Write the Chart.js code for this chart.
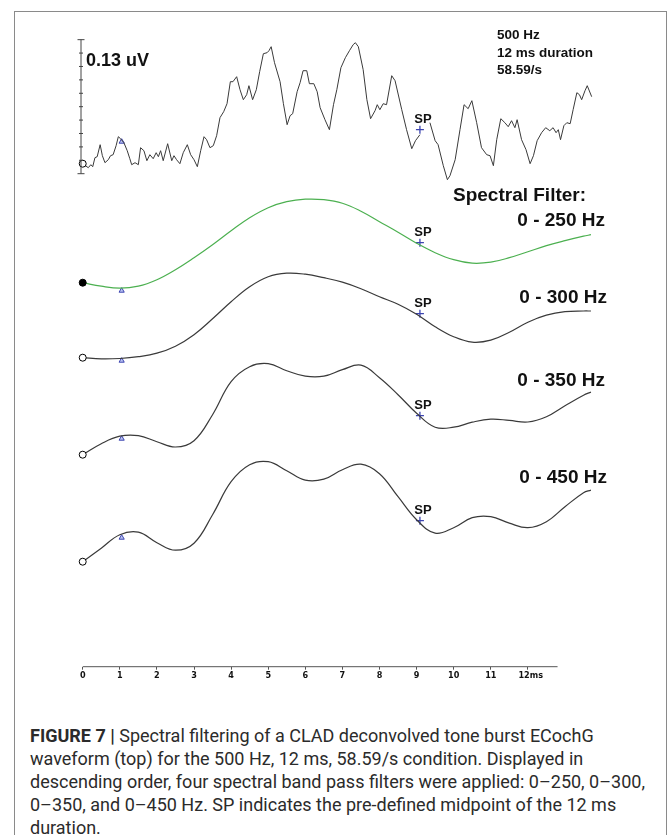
<!DOCTYPE html>
<html>
<head>
<meta charset="utf-8">
<script src="https://cdn.jsdelivr.net/npm/chart.js@4.4.0/dist/chart.umd.min.js"></script>
<style>
  body { margin: 0; background: #fff; width: 669px; height: 835px; overflow: hidden; position: relative; font-family: "Liberation Sans", Arial, sans-serif; }
  #frame { position: absolute; left: 14px; top: 11px; width: 653px; height: 900px; border: 1px solid #8a8a8a; box-sizing: border-box; }
  #wrap { position: absolute; left: 0; top: 0; width: 669px; height: 700px; }
  .lbl { position: absolute; font-weight: bold; color: #111; white-space: nowrap; line-height: 1; }
  .filt { font-size: 19px; }
  #caption { position: absolute; left: 30px; top: 724px; font-family: Roboto, "Open Sans", sans-serif; font-size: 18px; line-height: 23px; color: #2b2b2b; white-space: nowrap; }
</style>
</head>
<body>
<div id="frame"></div>
<div id="wrap"><canvas id="chart" width="669" height="700"></canvas></div>

<div class="lbl" style="left:86px; top:51px; font-size:18px;">0.13 uV</div>
<div class="lbl" style="left:497px; top:26px; font-size:13.5px; line-height:17.5px;">500 Hz<br>12 ms duration<br>58.59/s</div>
<div class="lbl filt" style="left:453px; top:185px;">Spectral Filter:</div>
<div class="lbl filt" style="right:64px; top:210px;">0 - 250 Hz</div>
<div class="lbl filt" style="right:62px; top:287px;">0 - 300 Hz</div>
<div class="lbl filt" style="right:64px; top:370px;">0 - 350 Hz</div>
<div class="lbl filt" style="right:62px; top:467px;">0 - 450 Hz</div>

<div id="caption"><b>FIGURE 7 |</b> Spectral filtering of a CLAD deconvolved tone burst ECochG<br>waveform (top) for the 500 Hz, 12 ms, 58.59/s condition. Displayed in<br>descending order, four spectral band pass filters were applied: 0–250, 0–300,<br>0–350, and 0–450 Hz. SP indicates the pre-defined midpoint of the 12 ms<br>duration.</div>

<script>
// x axis (ms)
const xTickValues = [0, 1, 2, 3, 4, 5, 6, 7, 8, 9, 10, 11, 12];
const xTickLabels = ["0", "1", "2", "3", "4", "5", "6", "7", "8", "9", "10", "11", "12ms"];
const axisEnd = 12.8;

// vertical placement of each trace (display units above the time axis)
const traceNames = ["CLAD", "0 - 250 Hz", "0 - 300 Hz", "0 - 350 Hz", "0 - 450 Hz"];
const traceOffsets = [503, 384, 309, 212, 105];

// calibration bar: 0.13 uV
const scaleBarTime = -0.046;
const scaleBarBase = 493;
const unitsPerMicrovolt = 1031;
const scaleBarSteps = [0, 0.013, 0.026, 0.039, 0.052, 0.065, 0.078, 0.091, 0.104, 0.117, 0.13];

// top (unfiltered) waveform
const topTimes = [0, 0.15, 0.22, 0.27, 0.33, 0.39, 0.47, 0.53, 0.60, 0.69,
  0.75, 0.82, 0.90, 0.96, 1.02, 1.11, 1.20, 1.27, 1.32, 1.41,
  1.50, 1.56, 1.65, 1.73, 1.81, 1.90, 1.98, 2.04, 2.10, 2.17,
  2.29, 2.40, 2.46, 2.53, 2.62, 2.71, 2.82, 2.91, 3.00, 3.09,
  3.18, 3.27, 3.34, 3.43, 3.52, 3.61, 3.70, 3.80, 3.89, 3.98,
  4.05, 4.15, 4.24, 4.33, 4.42, 4.48, 4.58, 4.68, 4.77, 4.87,
  4.97, 5.02, 5.08, 5.17, 5.32, 5.41, 5.51, 5.59, 5.66, 5.78,
  5.86, 5.94, 6.04, 6.11, 6.23, 6.32, 6.40, 6.53, 6.65, 6.76,
  6.85, 6.96, 7.08, 7.19, 7.29, 7.35, 7.43, 7.56, 7.66, 7.76,
  7.88, 7.94, 8.01, 8.10, 8.19, 8.33, 8.42, 8.60, 8.73, 8.87,
  8.97, 9.09, 9.22, 9.36, 9.50, 9.58, 9.72, 9.83, 9.90, 10.04,
  10.17, 10.28, 10.39, 10.49, 10.62, 10.75, 10.89, 10.98, 11.07, 11.16,
  11.27, 11.38, 11.47, 11.56, 11.65, 11.71, 11.83, 11.95, 12.06, 12.15,
  12.25, 12.37, 12.48, 12.59, 12.68, 12.76, 12.82, 12.88, 12.97, 13.05,
  13.14, 13.22, 13.32, 13.39, 13.45, 13.54, 13.60, 13.72];
const topAmps = [0, -4, -1, -3, 6, 7, 19, 8, 1, 4,
  8, 9, 18, 27, 25, 21, 13, 5, -1, 1,
  -1, 16, 13, 3, 9, 5, 11, 7, 13, 3,
  20, 3, 8, 4, 0, 11, 19, 9, 4, -3,
  13, 27, 24, 16, 18, 28, 46, 52, 60, 82,
  82, 87, 74, 64, 69, 78, 64, 74, 92, 110,
  111, 113, 117, 101, 82, 60, 39, 48, 50, 72,
  81, 93, 93, 80, 80, 72, 56, 44, 34, 59,
  74, 96, 106, 113, 119, 121, 117, 94, 64, 45,
  53, 59, 54, 60, 59, 88, 83, 54, 34, 15,
  23, 29, null, 41, 23, 19, -2, -16, -12, 4,
  34, 59, 55, 63, 41, 16, 9, 8, -2, 24,
  45, 41, 37, 43, 36, 44, 24, 14, 0, 8,
  23, 31, 36, 33, 36, 31, 34, 24, 38, 41,
  40, 54, 71, 69, 64, 73, 78, 67];

// filtered waveforms, sampled every 0.5 ms
const filterTimes = [0, 0.5, 1, 1.5, 2, 2.5, 3, 3.5, 4, 4.5, 5, 5.5, 6, 6.5, 7,
  7.5, 8, 8.5, 9, 9.5, 10, 10.5, 11, 11.5, 12, 12.5, 13, 13.5, 13.7];
const amps250 = [0, -3.5, -5.5, -3.5, 3, 13, 25, 38, 52, 65, 75, 81, 83.5, 83, 79.5,
  71.5, 61, 50.5, 39.5, 30, 23, 19.5, 20.5, 25, 31, 37, 42, 46.5, 48];
const amps300 = [0, -1.2, -0.8, 1, 4.5, 11.5, 23, 39, 56, 71, 81, 84.5, 83.5, 80, 75.5,
  69, 61, 53.5, 43.5, 31, 21, 15.5, 17.5, 25.5, 35.5, 42.5, 46, 46.7, 46.7];
const amps350 = [0, 11, 18.5, 19, 13, 7.7, 14, 40, 73, 88, 91, 84, 78.5, 78.5, 85,
  89.5, 77, 60, 41.5, 27.5, 27.5, 32.5, 35.5, 34.3, 32.7, 38, 49, 59.5, 62.6];
const amps450 = [0, 13.5, 27, 29.5, 19, 11.5, 18.5, 47, 80, 97, 100, 91, 81.5, 82.5, 92,
  97.5, 88, 65, 42, 28.5, 34, 44, 45, 38.5, 34, 40, 55, 69, 71.6];

// markers: onset (triangle) near 1 ms and SP (midpoint) near 9.1 ms
const onsetTime = 1.05;
const onsetAmps = [22, -8, -3, 16, 24];
const spTime = 9.09;
const spAmps = [34, 40, 44, 39, 41];
const spLabel = "SP";

const traceColors = ["#3a3a3a", "#4cb050", "#3a3a3a", "#3a3a3a", "#3a3a3a"];
const startFill = ["#ffffff", "#000000", "#ffffff", "#ffffff", "#ffffff"];
const markerBlue = "#3c44b0";

function toPoints(times, amps, offset) {
  return times.map((t, i) => ({ x: t, y: amps[i] === null ? null : amps[i] + offset }));
}

const datasets = [];

// time axis line (ends at 12.8 ms, traces run longer)
datasets.push({
  label: "axis",
  data: [{ x: 0, y: 0 }, { x: axisEnd, y: 0 }],
  borderColor: "#555",
  borderWidth: 1,
  pointRadius: 0,
  clip: false
});

// calibration bar
datasets.push({
  label: "0.13 uV",
  data: scaleBarSteps.map(v => ({ x: scaleBarTime, y: scaleBarBase + v * unitsPerMicrovolt })),
  borderColor: "#444",
  borderWidth: 1,
  pointStyle: "line",
  pointRadius: scaleBarSteps.map((v, i) => (i === 0 || i === scaleBarSteps.length - 1) ? 3.5 : 2),
  pointBorderColor: "#444",
  pointBorderWidth: 1,
  tension: 0,
  clip: false
});

const traceSeries = [
  [topTimes, topAmps],
  [filterTimes, amps250],
  [filterTimes, amps300],
  [filterTimes, amps350],
  [filterTimes, amps450]
];

traceSeries.forEach(([times, amps], i) => {
  datasets.push({
    label: traceNames[i],
    data: toPoints(times, amps, traceOffsets[i]),
    borderColor: traceColors[i],
    borderWidth: i === 0 ? 1 : 1.2,
    tension: i === 0 ? 0 : 0.4,
    spanGaps: false,
    pointRadius: ctx => ctx.dataIndex === 0 ? 3.5 : 0,
    pointBackgroundColor: startFill[i],
    pointBorderColor: "#000",
    pointBorderWidth: 1,
    clip: false
  });
});

datasets.push({
  label: "onset",
  data: onsetAmps.map((a, i) => ({ x: onsetTime, y: traceOffsets[i] + a })),
  showLine: false,
  pointStyle: "triangle",
  pointRadius: 3,
  pointBackgroundColor: "rgba(110,130,230,0.45)",
  pointBorderColor: markerBlue,
  pointBorderWidth: 1,
  clip: false
});

datasets.push({
  label: "SP",
  data: spAmps.map((a, i) => ({ x: spTime, y: traceOffsets[i] + a })),
  showLine: false,
  pointStyle: "cross",
  pointRadius: 4,
  pointBorderColor: markerBlue,
  pointBorderWidth: 1.3,
  clip: false
});
const spIndex = datasets.length - 1;

const spLabelPlugin = {
  id: "spLabels",
  afterDatasetsDraw(chart) {
    const meta = chart.getDatasetMeta(spIndex);
    const c = chart.ctx;
    c.save();
    c.font = 'bold 13px "Liberation Sans", Arial, sans-serif';
    c.fillStyle = "#111";
    c.textAlign = "center";
    c.textBaseline = "alphabetic";
    meta.data.forEach(pt => c.fillText(spLabel, pt.x + 3, pt.y - 7));
    c.restore();
  }
};

new Chart(document.getElementById("chart").getContext("2d"), {
  type: "line",
  data: { datasets },
  options: {
    responsive: false,
    animation: false,
    events: [],
    layout: { padding: { left: 79, right: 76.2, top: 20, bottom: 17.5 } },
    plugins: { legend: { display: false }, tooltip: { enabled: false } },
    scales: {
      x: {
        type: "linear",
        min: -0.1,
        max: 13.75,
        afterBuildTicks: scale => { scale.ticks = xTickValues.map(v => ({ value: v })); },
        ticks: {
          autoSkip: false,
          maxRotation: 0,
          padding: 1,
          color: "#111",
          font: { family: '"Liberation Sans Narrow", "DejaVu Sans Condensed", "Liberation Sans", sans-serif', size: 9, weight: "bold" },
          callback: (value, index) => {
            const lbl = xTickLabels[index];
            return lbl.length > 2 ? "  " + lbl : lbl;
          }
        },
        grid: { drawOnChartArea: false, drawTicks: true, tickLength: 3, color: "#555" },
        border: { display: false }
      },
      y: { display: false, min: 0, max: 646.7 }
    }
  },
  plugins: [spLabelPlugin]
});
</script>
</body>
</html>
